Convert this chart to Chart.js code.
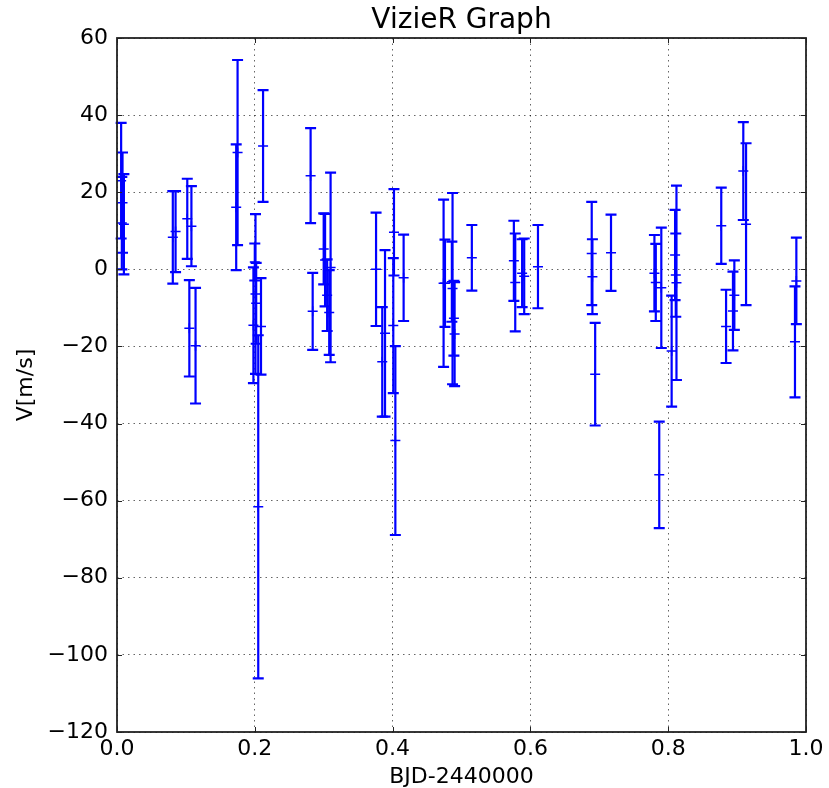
<!DOCTYPE html>
<html>
<head>
<meta charset="utf-8">
<title>VizieR Graph</title>
<script src="https://cdn.jsdelivr.net/npm/chart.js@4.4.1/dist/chart.umd.min.js"></script>
<style>
    html, body { margin: 0; padding: 0; background: #ffffff; }
    #wrap { width: 829px; height: 788px; position: relative; }
</style>
</head>
<body>
<div id="wrap"><canvas id="chart"></canvas></div>
<script>
'use strict';

// phase (BJD-2440000, folded), radial velocity and its error
const phase = [
    0.006, 0.008, 0.010, 0.007, 0.081, 0.085, 0.102, 0.108, 0.105, 0.114,
    0.173, 0.175, 0.212, 0.198, 0.201, 0.202, 0.209, 0.205, 0.200, 0.281,
    0.284, 0.300, 0.302, 0.305, 0.308, 0.310, 0.376, 0.385, 0.389, 0.402,
    0.401, 0.404, 0.416, 0.474, 0.476, 0.486, 0.487, 0.489, 0.490, 0.515,
    0.576, 0.578, 0.588, 0.591, 0.611, 0.689, 0.690, 0.694, 0.717, 0.780,
    0.782, 0.790, 0.787, 0.805, 0.812, 0.810, 0.811, 0.877, 0.884, 0.894,
    0.896, 0.909, 0.913, 0.984, 0.986
];
const velocity = [
    23.0, 17.3, 11.7, 12.0, 8.3, 9.8, 13.1, 11.2, -15.3, -19.8,
    16.1, 30.3, 32.0, -14.5, -6.4, -8.8, -14.8, -61.6, 1.9, 24.3,
    -10.9, 5.3, 2.4, -6.7, -11.2, 0.5, 0.0, -24.0, -16.6, 9.6,
    -14.6, -44.4, -2.2, -3.6, -3.6, -3.2, -5.0, -12.7, -16.8, 3.0,
    2.2, -3.4, -1.0, -1.8, 0.7, 4.1, -1.9, -27.2, 4.3, -1.0,
    -3.4, -4.8, -53.3, -21.2, -3.5, 3.7, -1.5, 11.3, -14.8, -10.8,
    -6.7, 25.5, 11.7, -18.8, -3.0
];
const velocityErr = [
    15.0, 13.0, 13.0, 12.0, 12.0, 10.5, 10.4, 10.4, 12.5, 15.0,
    16.3, 24.0, 14.5, 15.0, 20.7, 10.5, 12.5, 44.5, 4.8, 12.3,
    10.0, 9.2, 12.0, 9.3, 11.0, 24.6, 14.7, 14.2, 21.6, 11.2,
    17.5, 24.5, 11.2, 21.7, 11.3, 10.4, 24.8, 9.7, 13.5, 8.5,
    10.4, 12.7, 8.8, 9.8, 10.8, 13.4, 9.7, 13.3, 9.9, 9.9,
    10.0, 15.6, 13.8, 14.4, 25.2, 11.7, 10.8, 9.9, 9.5, 10.2,
    9.0, 12.7, 21.0, 14.4, 11.2
];

const xTicks = [0, 0.2, 0.4, 0.6, 0.8, 1.0];
const yTicks = [-120, -100, -80, -60, -40, -20, 0, 20, 40, 60];

const TITLE = 'VizieR Graph';
const BLUE = '#0000ff';
const FONT = 'DejaVu Sans';

// vertical error bars with caps, drawn under the markers
const errorBarsPlugin = {
    id: 'errorBars',
    beforeDatasetsDraw(chart) {
        const xs = chart.scales.x;
        const ys = chart.scales.y;
        const ctx = chart.ctx;
        const cap = 5.5;
        ctx.save();
        ctx.strokeStyle = BLUE;
        ctx.lineWidth = 2.2;
        for (let i = 0; i < phase.length; i++) {
            const px = xs.getPixelForValue(phase[i]);
            const top = ys.getPixelForValue(velocity[i] + velocityErr[i]);
            const bottom = ys.getPixelForValue(velocity[i] - velocityErr[i]);
            ctx.beginPath();
            ctx.moveTo(px, top);
            ctx.lineTo(px, bottom);
            ctx.moveTo(px - cap, top);
            ctx.lineTo(px + cap, top);
            ctx.moveTo(px - cap, bottom);
            ctx.lineTo(px + cap, bottom);
            ctx.stroke();
        }
        ctx.restore();
    }
};

// matplotlib-like frame with inward ticks on all four sides, title over the axes
const framePlugin = {
    id: 'frame',
    afterDraw(chart) {
        const area = chart.chartArea;
        const xs = chart.scales.x;
        const ys = chart.scales.y;
        const ctx = chart.ctx;
        const len = 5;
        ctx.save();
        ctx.strokeStyle = '#222222';
        ctx.lineWidth = 1;
        ctx.beginPath();
        for (const v of xTicks) {
            const px = Math.round(xs.getPixelForValue(v)) + 0.5;
            ctx.moveTo(px, area.bottom);
            ctx.lineTo(px, area.bottom - len);
            ctx.moveTo(px, area.top);
            ctx.lineTo(px, area.top + len);
        }
        for (const v of yTicks) {
            const py = Math.round(ys.getPixelForValue(v)) + 0.5;
            ctx.moveTo(area.left, py);
            ctx.lineTo(area.left + len, py);
            ctx.moveTo(area.right, py);
            ctx.lineTo(area.right - len, py);
        }
        ctx.stroke();
        ctx.lineWidth = 1.8;
        ctx.strokeRect(area.left, area.top, area.right - area.left, area.bottom - area.top);

        ctx.fillStyle = '#000000';
        ctx.font = '28px "' + FONT + '"';
        ctx.textAlign = 'center';
        ctx.textBaseline = 'alphabetic';
        ctx.fillText(TITLE, (area.left + area.right) / 2, 28);
        ctx.restore();
    }
};

const minus = v => String(v).replace('-', '\u2212');

const ctx = document.getElementById('chart').getContext('2d');

new Chart(ctx, {
    type: 'scatter',
    data: {
        datasets: [{
            label: 'V',
            data: phase.map((x, i) => ({ x, y: velocity[i] })),
            pointStyle: 'cross',
            pointRadius: 5,
            pointBorderWidth: 1.5,
            borderColor: BLUE,
            backgroundColor: BLUE,
            pointHoverRadius: 5,
        }]
    },
    options: {
        responsive: true,
        maintainAspectRatio: false,
        animation: false,
        events: [],
        layout: { padding: { top: 38, right: 23, bottom: 0, left: 0 } },
        plugins: {
            legend: { display: false },
            tooltip: { enabled: false },
            title: { display: false }
        },
        scales: {
            x: {
                type: 'linear',
                min: 0,
                max: 1,
                afterFit: scale => { scale.height = 56; },
                afterBuildTicks: scale => { scale.ticks = xTicks.map(value => ({ value })); },
                grid: { color: 'rgba(0,0,0,0.6)', lineWidth: 1, drawTicks: false },
                border: { display: false, dash: [1.5, 4] },
                ticks: {
                    color: '#000000',
                    padding: 4,
                    font: { family: FONT, size: 22 },
                    callback: v => v.toFixed(1)
                },
                title: {
                    display: true,
                    text: 'BJD-2440000',
                    color: '#000000',
                    font: { family: FONT, size: 22 },
                    padding: { top: 0, bottom: -2 }
                }
            },
            y: {
                type: 'linear',
                min: -120,
                max: 60,
                afterFit: scale => { scale.width = 117; },
                afterBuildTicks: scale => { scale.ticks = yTicks.map(value => ({ value })); },
                grid: { color: 'rgba(0,0,0,0.6)', lineWidth: 1, drawTicks: false },
                border: { display: false, dash: [1.5, 4] },
                ticks: {
                    color: '#000000',
                    padding: 9,
                    font: { family: FONT, size: 22 },
                    callback: v => minus(v)
                },
                title: {
                    display: true,
                    text: 'V[m/s]',
                    color: '#000000',
                    font: { family: FONT, size: 22 },
                    padding: { top: 13, bottom: 0 }
                }
            }
        }
    },
    plugins: [errorBarsPlugin, framePlugin]
});
</script>
</body>
</html>
